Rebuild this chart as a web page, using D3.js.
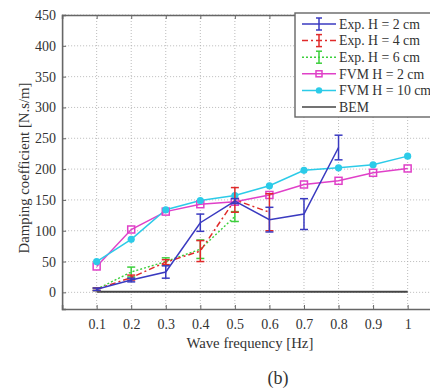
<!DOCTYPE html>
<html><head><meta charset="utf-8">
<script src="https://cdn.jsdelivr.net/npm/d3@7"></script>
<style>body{margin:0;background:#fff}svg{display:block}text{font-family:"Liberation Serif","Times New Roman",serif;fill:#333}</style>
</head><body><svg id="c" width="430" height="389"></svg>
<script>
const freqs = [0.1,0.2,0.3,0.4,0.5,0.6,0.7,0.8,0.9,1.0];
const expH2 = [5,20,33,113,148,118,127,235];
const expH2Err = [2,3,10,14,4,20,25,20];
const expH4 = [5,24,49,67,150,130];
const expH4Err = [2,4,4,17,20,30];
const expH6 = [5,33,50,70,123];
const expH6Err = [2,8,6,15,8];
const fvmH2 = [42,102,131,143,147,158,175,181,194,201];
const fvmH10 = [50,86,134,149,157,173,198,202,207,221];
const bem = [1,1,1,1,1,1,1,1,1,1];
const xTicks = [0.1,0.2,0.3,0.4,0.5,0.6,0.7,0.8,0.9,1];
const yTicks = [0,50,100,150,200,250,300,350,400,450];
const legendLabels = ["Exp. H = 2 cm","Exp. H = 4 cm","Exp. H = 6 cm","FVM H = 2 cm","FVM H = 10 cm","BEM"];

const FONT = '"Liberation Serif","Times New Roman",serif';
const svg = d3.select("#c");
const L = 62.1, T = 15, B = 309;
const x = d3.scaleLinear().domain([0,1.1]).range([L, L+380.1]);
const y = d3.scaleLinear().domain([-27,450]).range([B, T]);
const R = x(1.1);

// grid
const g = svg.append("g");
g.selectAll(".gx").data(xTicks).join("line")
  .attr("x1",d=>x(d)).attr("x2",d=>x(d)).attr("y1",T).attr("y2",B)
  .attr("stroke","#aaa").attr("stroke-width",0.8).attr("stroke-dasharray","1,2");
g.selectAll(".gy").data(yTicks).join("line")
  .attr("x1",L).attr("x2",R).attr("y1",d=>y(d)).attr("y2",d=>y(d))
  .attr("stroke","#aaa").attr("stroke-width",0.8).attr("stroke-dasharray","1,2");

// axes via d3
const xAxis = d3.axisBottom(x).tickValues(xTicks).tickSize(-4).tickPadding(10).tickFormat(d3.format("~g"));
const yAxis = d3.axisLeft(y).tickValues(yTicks).tickSize(-4).tickPadding(6).tickFormat(d3.format("d"));
const xa = svg.append("g").attr("transform",`translate(0,${B})`).call(xAxis);
const ya = svg.append("g").attr("transform",`translate(${L},0)`).call(yAxis);
const xt = svg.append("g").attr("transform",`translate(0,${T})`).call(d3.axisTop(x).tickValues(xTicks).tickSize(-4).tickFormat(""));
[xa,ya,xt].forEach(a=>{
  a.attr("font-family",FONT).attr("font-size",14);
  a.select(".domain").attr("stroke","#666").attr("stroke-width",1.6);
  a.selectAll(".tick line").attr("stroke","#666");
  a.selectAll(".tick text").attr("font-size",14).attr("fill","#333").style("font-family",FONT);
});

// data lines
function pts(vals){ return vals.map((v,i)=>[freqs[i],v]); }
const line = d3.line().x(d=>x(d[0])).y(d=>y(d[1]));
function series(vals, color, dash, width){
  svg.append("path").datum(pts(vals)).attr("d",line).attr("fill","none")
    .attr("stroke",color).attr("stroke-width",width).attr("stroke-dasharray",dash);
}
function errs(vals, err, color){
  const gg = svg.append("g").attr("stroke",color).attr("stroke-width",1.5);
  vals.forEach((v,i)=>{
    const cx = x(freqs[i]);
    gg.append("line").attr("x1",cx).attr("x2",cx).attr("y1",y(v-err[i])).attr("y2",y(v+err[i]));
    gg.append("line").attr("x1",cx-4).attr("x2",cx+4).attr("y1",y(v-err[i])).attr("y2",y(v-err[i]));
    gg.append("line").attr("x1",cx-4).attr("x2",cx+4).attr("y1",y(v+err[i])).attr("y2",y(v+err[i]));
  });
}
const cBlue="#3a3ac0", cRed="#e02a2a", cGreen="#3ccf3c", cMag="#e040c8", cCyan="#2ccbe8", cBlack="#444";

series(bem, cBlack, null, 2.2);
series(fvmH2, cMag, null, 1.5);
series(fvmH10, cCyan, null, 1.5);
svg.selectAll(".sq").data(pts(fvmH2)).join("rect")
  .attr("x",d=>x(d[0])-3.5).attr("y",d=>y(d[1])-3.5).attr("width",7).attr("height",7)
  .attr("fill","none").attr("stroke",cMag).attr("stroke-width",1.5);
svg.selectAll(".ci").data(pts(fvmH10)).join("circle")
  .attr("cx",d=>x(d[0])).attr("cy",d=>y(d[1])).attr("r",3.6).attr("fill",cCyan);
series(expH6, cGreen, "2,2", 1.4);
errs(expH6, expH6Err, cGreen);
series(expH4, cRed, "6,3,2,3", 1.5);
errs(expH4, expH4Err, cRed);
series(expH2, cBlue, null, 1.5);
errs(expH2, expH2Err, cBlue);

// legend
const lg = svg.append("g");
lg.append("rect").attr("x",295).attr("y",13).attr("width",150).attr("height",104)
  .attr("fill","#fff").attr("stroke","#666").attr("stroke-width",1.4);
const lStyles = [
  {c:cBlue,d:null,m:"err"},{c:cRed,d:"6,3,2,3",m:"err"},{c:cGreen,d:"2,2",m:"err"},
  {c:cMag,d:null,m:"sq"},{c:cCyan,d:null,m:"ci"},{c:cBlack,d:null,m:null}];
legendLabels.forEach((lab,i)=>{
  const yy = 24 + i*16.6, st = lStyles[i];
  lg.append("line").attr("x1",302).attr("x2",336).attr("y1",yy).attr("y2",yy)
    .attr("stroke",st.c).attr("stroke-width",1.5).attr("stroke-dasharray",st.d);
  if(st.m==="err"){
    lg.append("line").attr("x1",319).attr("x2",319).attr("y1",yy-6).attr("y2",yy+6).attr("stroke",st.c).attr("stroke-width",1.5);
    lg.append("line").attr("x1",316).attr("x2",322).attr("y1",yy-6).attr("y2",yy-6).attr("stroke",st.c).attr("stroke-width",1.5);
    lg.append("line").attr("x1",316).attr("x2",322).attr("y1",yy+6).attr("y2",yy+6).attr("stroke",st.c).attr("stroke-width",1.5);
  } else if(st.m==="sq"){
    lg.append("rect").attr("x",316).attr("y",yy-3).attr("width",6).attr("height",6).attr("fill","none").attr("stroke",st.c).attr("stroke-width",1.5);
  } else if(st.m==="ci"){
    lg.append("circle").attr("cx",319).attr("cy",yy).attr("r",3.2).attr("fill",st.c);
  }
  lg.append("text").attr("x",339).attr("y",yy+4.8).attr("font-size",13.8).text(lab);
});

// labels
svg.append("text").attr("transform",`translate(26,${(T+B)/2+6}) rotate(-90)`)
  .attr("text-anchor","middle").attr("dominant-baseline","middle").attr("font-size",14.8)
  .text("Damping coefficient [N.s/m]");
svg.append("text").attr("x",x(0.5)+15).attr("y",348).attr("text-anchor","middle").attr("font-size",14.8)
  .text("Wave frequency [Hz]");
svg.append("text").attr("x",278).attr("y",384).attr("text-anchor","middle").attr("font-size",18)
  .text("(b)");
</script></body></html>
